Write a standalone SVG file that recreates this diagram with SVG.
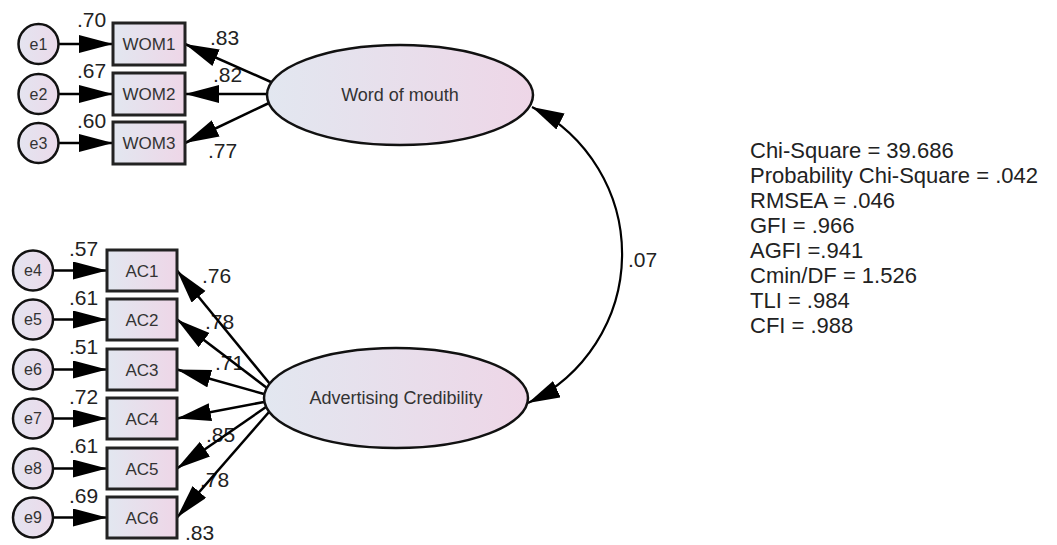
<svg xmlns="http://www.w3.org/2000/svg" width="1057" height="545" viewBox="0 0 1057 545">
<defs>
<linearGradient id="fillG" x1="0" y1="0" x2="1" y2="0">
<stop offset="0" stop-color="#e2e7f0"/>
<stop offset="1" stop-color="#eed6e7"/>
</linearGradient>
<linearGradient id="fillE" x1="0" y1="0" x2="1" y2="0">
<stop offset="0" stop-color="#e4e4f0"/>
<stop offset="1" stop-color="#ebdaea"/>
</linearGradient>
<marker id="ah" markerUnits="userSpaceOnUse" markerWidth="36" markerHeight="20" refX="34" refY="9" orient="auto-start-reverse" viewBox="0 0 36 20">
<path d="M0,0 L34,9 L0,18 z" fill="#000"/>
</marker>
<marker id="ah2" markerUnits="userSpaceOnUse" markerWidth="34" markerHeight="20" refX="32" refY="9" orient="auto-start-reverse" viewBox="0 0 34 20">
<path d="M0,0 L32,9 L0,18 z" fill="#000"/>
</marker>
</defs>
<style>
.err{fill:url(#fillE);stroke:#111;stroke-width:2.5}
.box{fill:url(#fillG);stroke:#222;stroke-width:3}
.lat{fill:url(#fillG);stroke:#111;stroke-width:2.5}
.t{font-family:"Liberation Sans",Arial,sans-serif;fill:#333}
.et{font-size:16px}
.bt{font-size:17px}
.lt{font-size:18px}
.num{font-family:"Liberation Sans",Arial,sans-serif;font-size:21px;fill:#222}
.fit{font-family:"Liberation Sans",Arial,sans-serif;font-size:22px;fill:#222}
.c{fill:none;stroke:#000;stroke-width:2.5;marker-end:url(#ah)}
.cov{fill:none;stroke:#000;stroke-width:2.2;marker-start:url(#ah2);marker-end:url(#ah2)}
</style>
<rect width="1057" height="545" fill="#fff"/>

<g id="labels">
<text class="num" x="77" y="27">.70</text>
<text class="num" x="77" y="78">.67</text>
<text class="num" x="77" y="128">.60</text>
<text class="num" x="210" y="45">.83</text>
<text class="num" x="213" y="82">.82</text>
<text class="num" x="208" y="158">.77</text>
<text class="num" x="69" y="256">.57</text>
<text class="num" x="69" y="305">.61</text>
<text class="num" x="69" y="354">.51</text>
<text class="num" x="69" y="404">.72</text>
<text class="num" x="69" y="453">.61</text>
<text class="num" x="69" y="503">.69</text>
<text class="num" x="202" y="283">.76</text>
<text class="num" x="205" y="329">.78</text>
<text class="num" x="215" y="370">.71</text>
<text class="num" x="206" y="442">.85</text>
<text class="num" x="200" y="487">.78</text>
<text class="num" x="185" y="540">.83</text>
<text class="num" x="628" y="267">.07</text>
</g>

<g id="connectors">
<line class="c" x1="59" y1="44" x2="113" y2="44"/>
<line class="c" x1="59" y1="94" x2="113" y2="94"/>
<line class="c" x1="59" y1="143" x2="113" y2="143"/>
<line class="c" x1="271" y1="82" x2="185" y2="44"/>
<line class="c" x1="267" y1="94" x2="185" y2="94"/>
<line class="c" x1="269" y1="103" x2="185" y2="143"/>
<line class="c" x1="54" y1="270.5" x2="107" y2="270.5"/>
<line class="c" x1="54" y1="319.5" x2="107" y2="319.5"/>
<line class="c" x1="54" y1="369.5" x2="107" y2="369.5"/>
<line class="c" x1="54" y1="418.5" x2="107" y2="418.5"/>
<line class="c" x1="54" y1="468.5" x2="107" y2="468.5"/>
<line class="c" x1="54" y1="517.5" x2="107" y2="517.5"/>
<line class="c" x1="270" y1="384" x2="177" y2="270.5"/>
<line class="c" x1="267" y1="388" x2="177" y2="319.5"/>
<line class="c" x1="264" y1="394" x2="177" y2="369.5"/>
<line class="c" x1="264" y1="402" x2="177" y2="418.5"/>
<line class="c" x1="266" y1="407" x2="177" y2="468.5"/>
<line class="c" x1="269" y1="412" x2="177" y2="517.5"/>
<path class="cov" d="M532,107 A165,165 0 0 1 528,403"/>
</g>

<g id="e1"><circle class="err" cx="38.5" cy="44" r="20"/><text class="t et" x="38.5" y="49.5" text-anchor="middle">e1</text></g>
<g id="e2"><circle class="err" cx="38.5" cy="94" r="20"/><text class="t et" x="38.5" y="99.5" text-anchor="middle">e2</text></g>
<g id="e3"><circle class="err" cx="38.5" cy="143" r="20"/><text class="t et" x="38.5" y="148.5" text-anchor="middle">e3</text></g>
<g id="WOM1"><rect class="box" x="113" y="23" width="72" height="42"/><text class="t bt" x="149" y="50" text-anchor="middle">WOM1</text></g>
<g id="WOM2"><rect class="box" x="113" y="73" width="72" height="42"/><text class="t bt" x="149" y="100" text-anchor="middle">WOM2</text></g>
<g id="WOM3"><rect class="box" x="113" y="122" width="72" height="42"/><text class="t bt" x="149" y="149" text-anchor="middle">WOM3</text></g>
<g id="WordOfMouth"><ellipse class="lat" cx="400" cy="95" rx="133" ry="50"/><text class="t lt" x="400" y="101" text-anchor="middle">Word of mouth</text></g>

<g id="e4"><circle class="err" cx="33" cy="270.5" r="20"/><text class="t et" x="33" y="276" text-anchor="middle">e4</text></g>
<g id="e5"><circle class="err" cx="33" cy="319.5" r="20"/><text class="t et" x="33" y="325" text-anchor="middle">e5</text></g>
<g id="e6"><circle class="err" cx="33" cy="369.5" r="20"/><text class="t et" x="33" y="375" text-anchor="middle">e6</text></g>
<g id="e7"><circle class="err" cx="33" cy="418.5" r="20"/><text class="t et" x="33" y="424" text-anchor="middle">e7</text></g>
<g id="e8"><circle class="err" cx="33" cy="468.5" r="20"/><text class="t et" x="33" y="474" text-anchor="middle">e8</text></g>
<g id="e9"><circle class="err" cx="33" cy="517.5" r="20"/><text class="t et" x="33" y="523" text-anchor="middle">e9</text></g>
<g id="AC1"><rect class="box" x="107" y="250" width="70" height="41"/><text class="t bt" x="142" y="276.5" text-anchor="middle">AC1</text></g>
<g id="AC2"><rect class="box" x="107" y="299" width="70" height="41"/><text class="t bt" x="142" y="325.5" text-anchor="middle">AC2</text></g>
<g id="AC3"><rect class="box" x="107" y="349" width="70" height="41"/><text class="t bt" x="142" y="375.5" text-anchor="middle">AC3</text></g>
<g id="AC4"><rect class="box" x="107" y="398" width="70" height="41"/><text class="t bt" x="142" y="424.5" text-anchor="middle">AC4</text></g>
<g id="AC5"><rect class="box" x="107" y="448" width="70" height="41"/><text class="t bt" x="142" y="474.5" text-anchor="middle">AC5</text></g>
<g id="AC6"><rect class="box" x="107" y="497" width="70" height="41"/><text class="t bt" x="142" y="523.5" text-anchor="middle">AC6</text></g>
<g id="AdvertisingCredibility"><ellipse class="lat" cx="396" cy="398" rx="132" ry="50"/><text class="t lt" x="396" y="404" text-anchor="middle">Advertising Credibility</text></g>

<g id="fit">
<text class="fit" x="750" y="158">Chi-Square = 39.686</text>
<text class="fit" x="750" y="183">Probability Chi-Square = .042</text>
<text class="fit" x="750" y="208">RMSEA = .046</text>
<text class="fit" x="750" y="233">GFI = .966</text>
<text class="fit" x="750" y="258">AGFI =.941</text>
<text class="fit" x="750" y="283">Cmin/DF = 1.526</text>
<text class="fit" x="750" y="308">TLI = .984</text>
<text class="fit" x="750" y="333">CFI = .988</text>
</g>
</svg>
